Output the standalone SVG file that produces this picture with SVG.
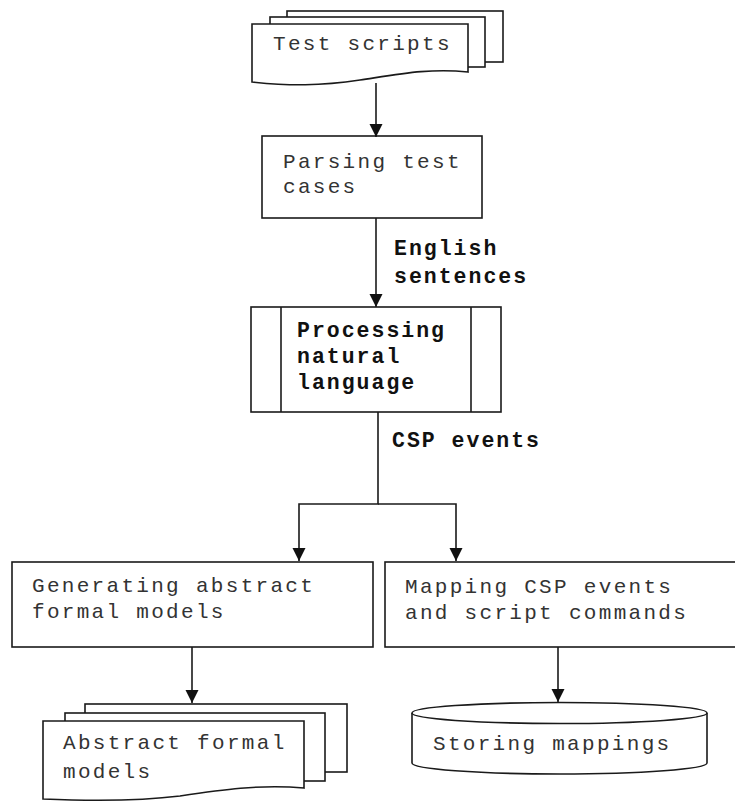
<svg xmlns="http://www.w3.org/2000/svg" width="735" height="802" viewBox="0 0 735 802">
<defs>
<style>
.shape{fill:#fff;stroke:#1a1a1a;stroke-width:1.6}
.t{font-family:"Liberation Mono","Courier New",monospace;font-size:21px;letter-spacing:2.3px;fill:#333}
.b{font-family:"Liberation Mono","Courier New",monospace;font-size:21.5px;letter-spacing:2px;font-weight:bold;fill:#111}
.c{fill:none;stroke:#1a1a1a;stroke-width:1.6}
</style>
<marker id="ah" markerUnits="userSpaceOnUse" markerWidth="14" markerHeight="14" refX="13" refY="7" orient="auto">
<path d="M0,0.5 L13,7 L0,13.5 Z" fill="#111"/>
</marker>
</defs>
<rect width="735" height="802" fill="#fff"/>
<g id="test-scripts">
<rect class="shape" x="287" y="11" width="216" height="51"/>
<rect class="shape" x="270" y="17" width="215" height="50"/>
<path class="shape" d="M252,24 H468 V72 C430,68 400,74 360,80 C320,86 290,86 252,82 Z"/>
<text class="t" x="273" y="50">Test scripts</text>
</g>
<g id="parsing">
<rect class="shape" x="262" y="136" width="220" height="82"/>
<text class="t" x="283" y="168">Parsing test</text>
<text class="t" x="283" y="193">cases</text>
</g>
<g id="processing">
<rect class="shape" x="251" y="307" width="250" height="105"/>
<line class="c" x1="281" y1="307" x2="281" y2="412"/>
<line class="c" x1="471" y1="307" x2="471" y2="412"/>
<text class="b" x="297" y="337">Processing</text>
<text class="b" x="297" y="363">natural</text>
<text class="b" x="297" y="389">language</text>
</g>
<g id="generating">
<rect class="shape" x="12" y="562" width="361" height="85"/>
<text class="t" x="32" y="592">Generating abstract</text>
<text class="t" x="32" y="618">formal models</text>
</g>
<g id="mapping">
<rect class="shape" x="385" y="562" width="360" height="85"/>
<text class="t" x="405" y="593">Mapping CSP events</text>
<text class="t" x="405" y="619">and script commands</text>
</g>
<g id="abstract-models">
<rect class="shape" x="85" y="704" width="262" height="68"/>
<rect class="shape" x="65" y="713" width="260" height="68"/>
<path class="shape" d="M43,721 H304 V788 C260,784 220,790 180,796 C140,801 90,801 43,799 Z"/>
<text class="t" x="63" y="749">Abstract formal</text>
<text class="t" x="63" y="778">models</text>
</g>
<g id="storing">
<path class="shape" d="M412,713 V763 A147.5,11 0 0 0 707,763 V713"/>
<ellipse class="shape" cx="559.5" cy="713" rx="147.5" ry="10.5"/>
<text class="t" x="433" y="750">Storing mappings</text>
</g>
<g id="connectors">
<path class="c" d="M376,83 V137" marker-end="url(#ah)"/>
<path class="c" d="M376,218 V307" marker-end="url(#ah)"/>
<path class="c" d="M378,412 V504 H299 V561" marker-end="url(#ah)"/>
<path class="c" d="M378,504 H456 V561" marker-end="url(#ah)"/>
<path class="c" d="M192,647 V703" marker-end="url(#ah)"/>
<path class="c" d="M558,647 V702" marker-end="url(#ah)"/>
<text class="b" x="394" y="255">English</text>
<text class="b" x="394" y="283">sentences</text>
<text class="b" x="392" y="447">CSP events</text>
</g>
</svg>
